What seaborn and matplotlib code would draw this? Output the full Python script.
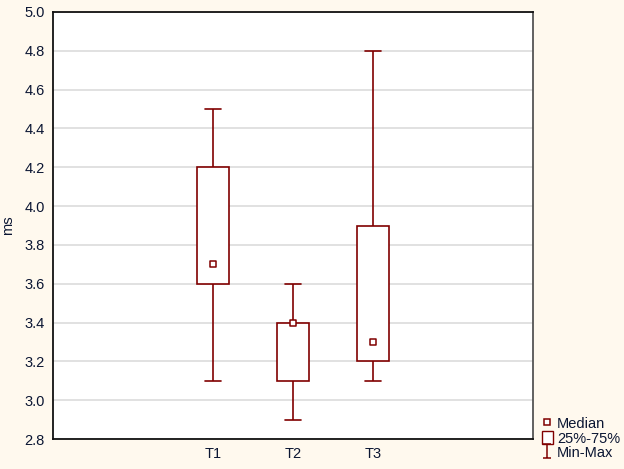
import numpy as np
import pandas as pd
import matplotlib
matplotlib.use("Agg")
import matplotlib.pyplot as plt
from matplotlib.lines import Line2D
from matplotlib.patches import Patch
from matplotlib.path import Path
import seaborn as sns

# five-number summaries: min, q1, median, q3, max
groups = ["T1", "T2", "T3"]
positions = [2, 3, 4]
t1 = [3.1, 3.6, 3.7, 4.2, 4.5]
t2 = [2.9, 3.1, 3.4, 3.4, 3.6]
t3 = [3.1, 3.2, 3.3, 3.9, 4.8]
medians = [t1[2], t2[2], t3[2]]
tick_pos = [1, 2, 3, 4, 5]
tick_labels = ["", "T1", "T2", "T3", ""]

BOX = "#800000"
BG = "#FFF9EE"
TXT = "#0B1633"

sns.set_style("white")
plt.rcParams["font.family"] = ["Liberation Sans", "DejaVu Sans"]

rows = []
for pos, vals in zip(positions, [t1, t2, t3]):
    for v in vals:
        rows.append({"pos": pos, "ms": v})
df = pd.DataFrame(rows)

fig = plt.figure(figsize=(6.24, 4.69), dpi=100, facecolor=BG)
ax = fig.add_axes([53 / 624, 30 / 469, 480 / 624, 427 / 469])
ax.set_facecolor("white")

# 5 points per group -> linear percentiles hit q1/q3 exactly
sns.boxplot(data=df, x="pos", y="ms", native_scale=True, width=0.4,
            whis=(0, 100), color="white", linecolor=BOX, linewidth=1.2,
            showfliers=False, medianprops={"visible": False}, ax=ax)
ax.scatter(positions, medians, marker="s", s=22, facecolor="white",
           edgecolor=BOX, linewidth=1.1, zorder=5)

ax.set_xlim(0, 6)
ax.set_ylim(2.8, 5.0)
ax.set_yticks(np.arange(2.8, 5.01, 0.2))
ax.set_yticklabels([f"{v:.1f}" for v in np.arange(2.8, 5.01, 0.2)])
ax.set_xticks(tick_pos)
ax.set_xticklabels(tick_labels)
ax.yaxis.grid(True, color="#DCDCDC", linewidth=1.2)
ax.set_axisbelow(True)
ax.set_xlabel("")
ax.set_ylabel("ms", color=TXT, fontsize=10.5)
ax.yaxis.set_label_coords(-0.08, 0.5)

ax.tick_params(axis="y", direction="out", length=4, color="#333333",
               labelsize=10.5, labelcolor=TXT, pad=2)
ax.tick_params(axis="x", direction="in", length=4, color="#333333",
               labelsize=10.5, labelcolor=TXT, pad=6)
for side in ["left", "bottom", "top"]:
    ax.spines[side].set_color("#111111")
    ax.spines[side].set_linewidth(1.3)
ax.spines["right"].set_color("#555555")
ax.spines["right"].set_linewidth(1.3)

ibeam = Path([(-0.6, 1), (0.6, 1), (0, 1), (0, -1), (-0.6, -1), (0.6, -1)],
             [Path.MOVETO, Path.LINETO, Path.MOVETO, Path.LINETO,
              Path.MOVETO, Path.LINETO])
handles = [
    Line2D([], [], marker="s", linestyle="none", markersize=5,
           markerfacecolor="white", markeredgecolor=BOX, markeredgewidth=1.1),
    Patch(facecolor="white", edgecolor=BOX, linewidth=1.0),
    Line2D([], [], marker=ibeam, linestyle="none", markersize=10,
           markeredgecolor=BOX, color=BOX, markeredgewidth=1.1),
]
fig.legend(handles, ["Median", "25%-75%", "Min-Max"], loc="lower left",
           bbox_to_anchor=(533 / 624, 0.0), frameon=False, fontsize=10.5,
           handlelength=0.75, handleheight=1.05, handletextpad=0.3,
           labelspacing=0.0, borderaxespad=0.2, labelcolor=TXT)

fig.savefig("out.png", dpi=100, facecolor=BG)
